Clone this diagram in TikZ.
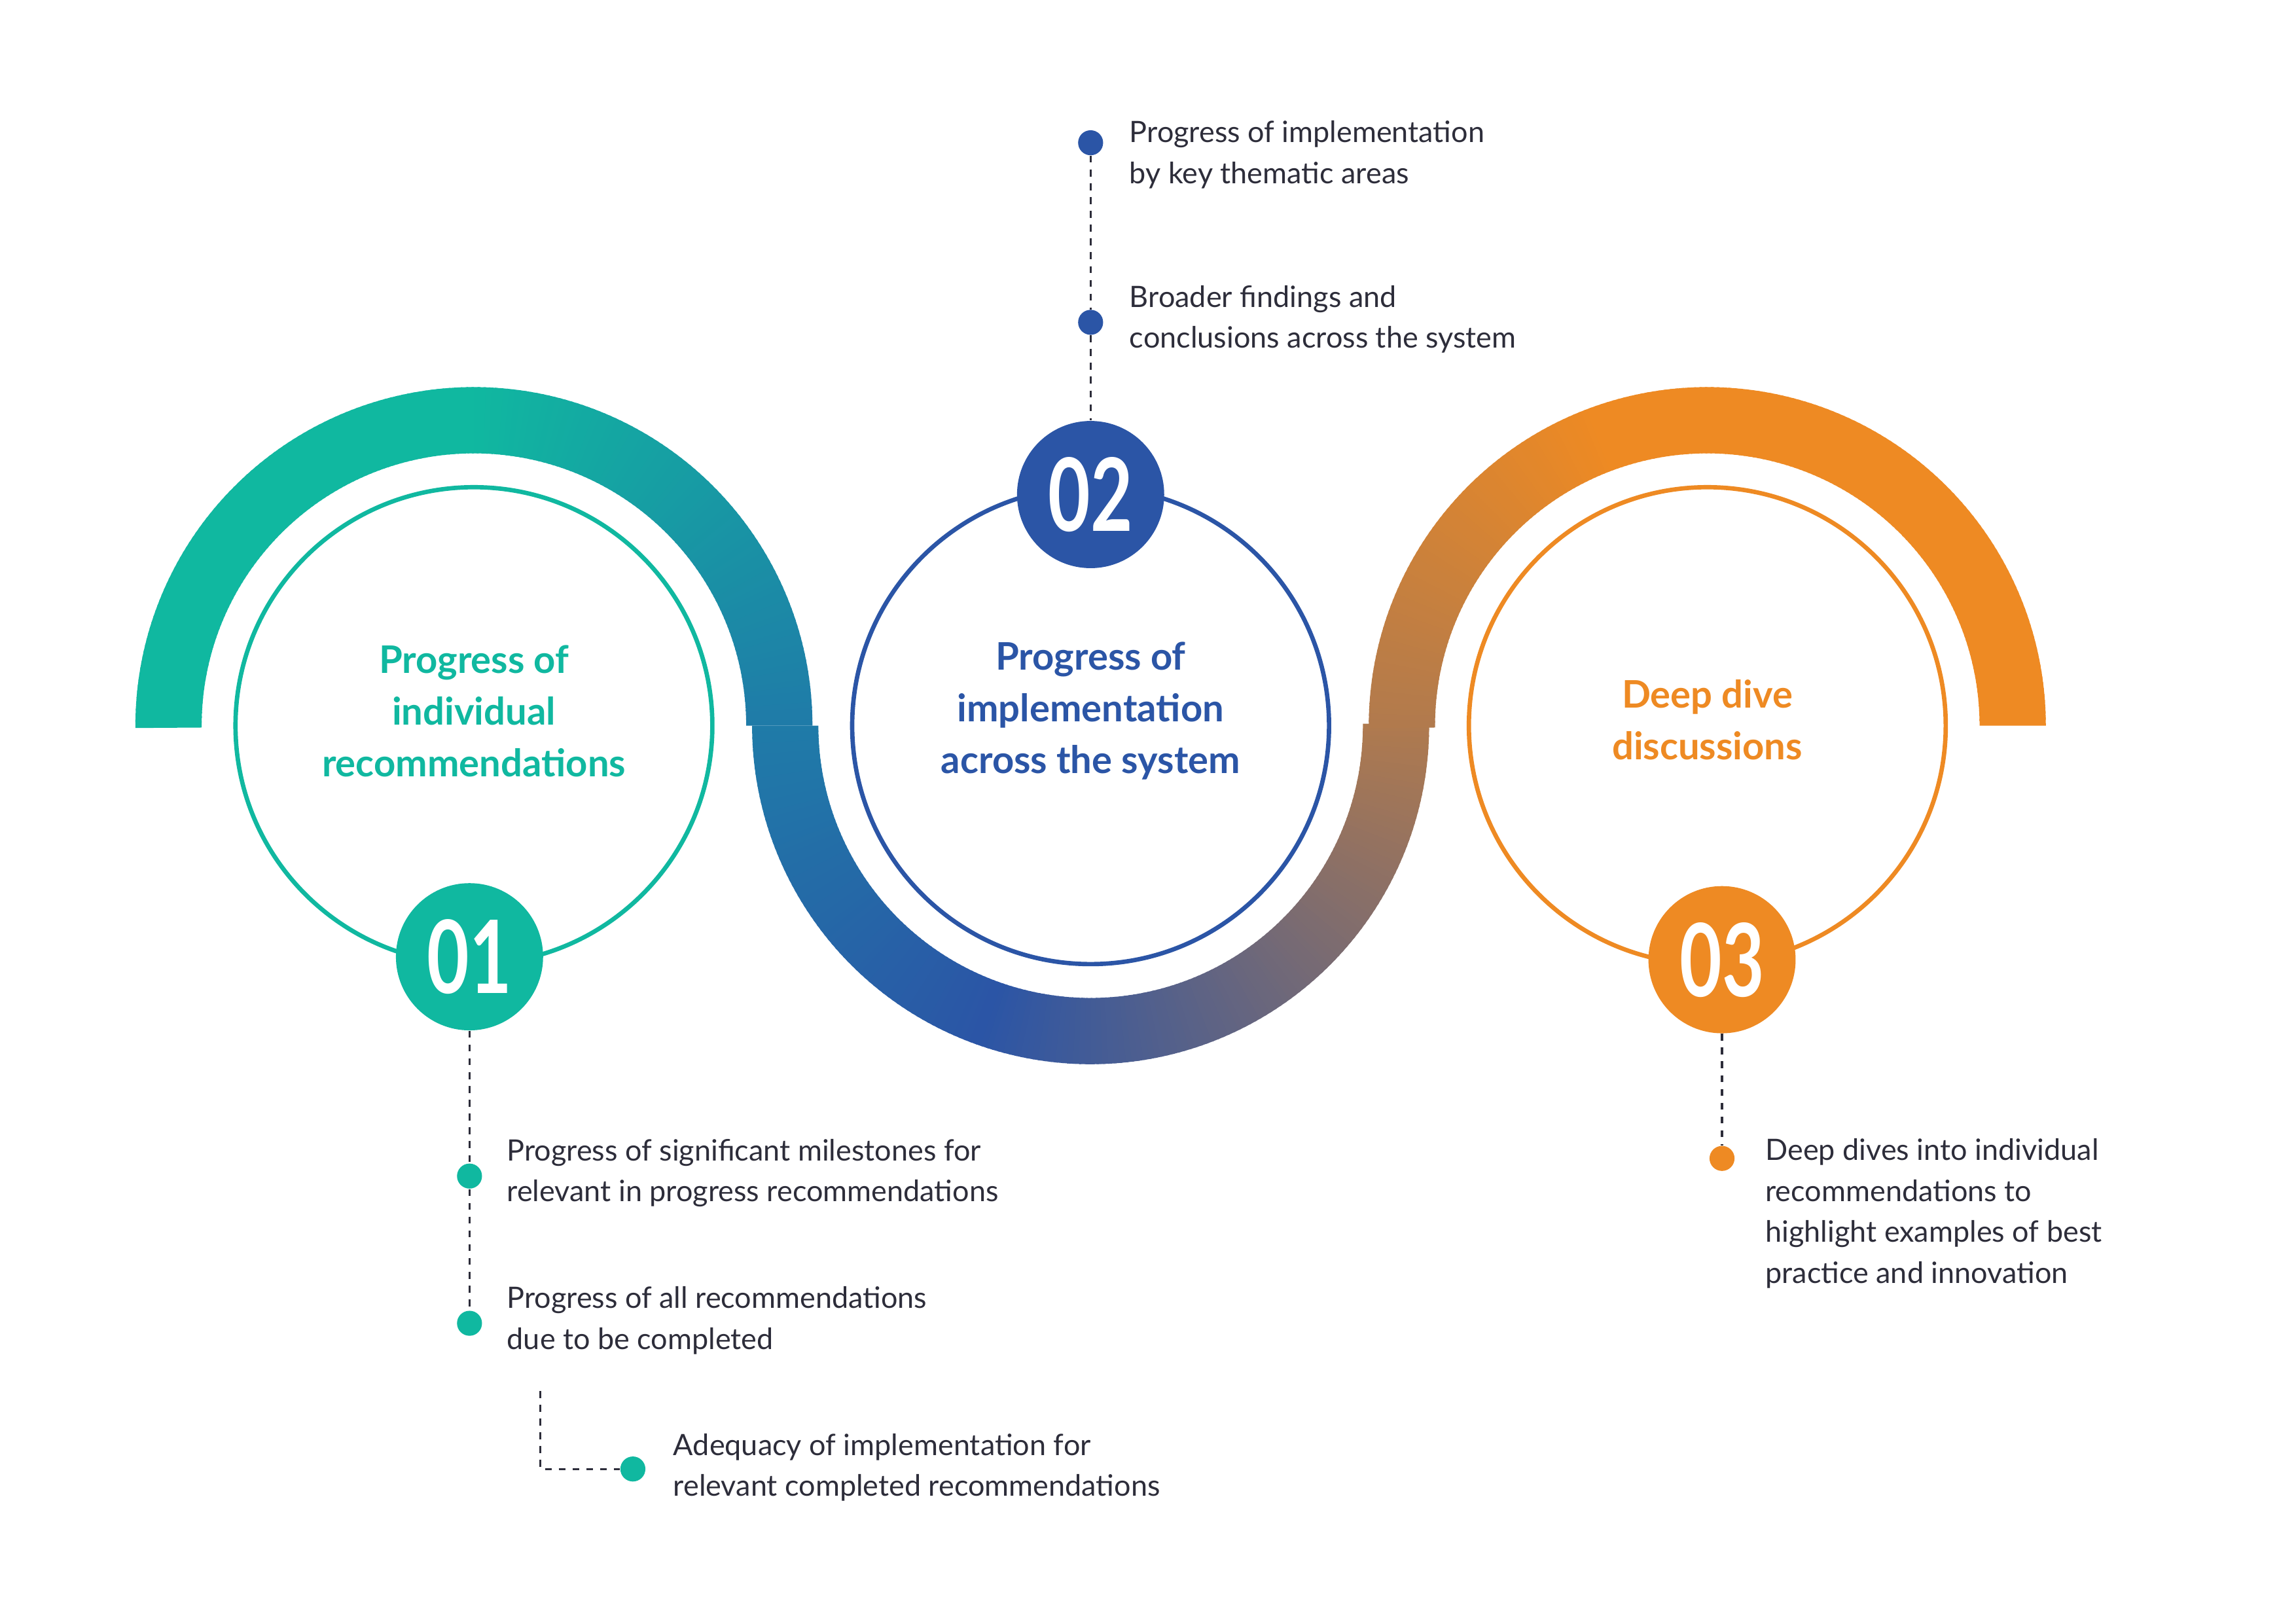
\documentclass[tikz,border=0pt]{standalone}
\usepackage{graphicx}
\usepackage{fontspec}
\setmainfont{Lato}
\usetikzlibrary{positioning}
\definecolor{tealc}{HTML}{10B8A0}
\definecolor{steelc}{HTML}{1F7BA8}
\definecolor{bluec}{HTML}{2B55A6}
\definecolor{brownc}{HTML}{B07A4E}
\definecolor{orangec}{HTML}{EE8A23}
\definecolor{textc}{HTML}{2D2D3A}
\begin{document}
\begin{tikzpicture}[x=0.02249cm,y=0.02249cm,
            ring/.style={draw,circle,line width=1.9pt,minimum size=324*0.02249cm,inner sep=0pt},
            badge/.style={circle,minimum size=100*0.02249cm,inner sep=0pt,text=white,font=\fontsize{44}{44}\selectfont\bfseries},
            title/.style={align=center,font=\fontsize{16.5}{22.5}\selectfont\bfseries},
            dot/.style={circle,minimum size=17*0.02249cm,inner sep=0pt},
            info/.style={anchor=west,align=left,text=textc,font=\fontsize{12.8}{17.8}\selectfont},
            link/.style={draw=textc,dashed,line width=0.9pt}
          ]
          \useasboundingbox (0,0) rectangle (1560,1103);

          %wave
          \foreach \a in {0,...,179}{
            \pgfmathsetmacro\p{min(100,\a/90*100)}
            \fill[tealc!\p!steelc,shift={(322,610)}] (\a:230) arc[start angle=\a,end angle=\a+1.4,radius=230] -- (\a+1.4:185) arc[start angle=\a+1.4,end angle=\a,radius=185] -- cycle;
          }
          \foreach \a in {180,...,359}{
            \pgfmathsetmacro\p{\a<250 ? (\a-180)/70*100 : 100-(\a-250)/110*100}
            \ifdim\a pt<250pt
              \colorlet{segc}{bluec!\p!steelc}
            \else
              \colorlet{segc}{bluec!\p!brownc}
            \fi
            \fill[segc,shift={(741,610)}] (\a:230) arc[start angle=\a,end angle=\a+1.4,radius=230] -- (\a+1.4:185) arc[start angle=\a+1.4,end angle=\a,radius=185] -- cycle;
          }
          \foreach \a in {0,...,179}{
            \pgfmathsetmacro\p{max(0,(\a-110)/70*100)}
            \fill[brownc!\p!orangec,shift={(1160,610)}] (\a:230) arc[start angle=\a,end angle=\a+1.4,radius=230] -- (\a+1.4:185) arc[start angle=\a+1.4,end angle=\a,radius=185] -- cycle;
          }

          %rings
          \node[ring,draw=tealc] (r1) at (322,610) {};
          \node[ring,draw=bluec] (r2) at (741,610) {};
          \node[ring,draw=orangec] (r3) at (1160,610) {};

          \node[title,text=tealc] (t1) at (322,620) {Progress of\\individual\\recommendations};
          \node[title,text=bluec] (t2) at (741,620) {Progress of\\implementation\\across the system};
          \node[title,text=orangec] (t3) at (1160,614) {Deep dive\\discussions};

          %badges
          \node[badge,fill=tealc] (b1) at (319,453) {\scalebox{0.72}[1]{01}};
          \node[badge,fill=bluec] (b2) at (741,767) {\scalebox{0.72}[1]{02}};
          \node[badge,fill=orangec] (b3) at (1170,451) {\scalebox{0.72}[1]{03}};

          %points
          \node[dot,fill=bluec] (d21) at (741,1006) {};
          \node[dot,fill=bluec] (d22) at (741,884) {};
          \node[dot,fill=tealc] (d11) at (319,304) {};
          \node[dot,fill=tealc] (d12) at (319,204) {};
          \node[dot,fill=tealc] (d13) at (430,105) {};
          \node[dot,fill=orangec] (d31) at (1170,316) {};
          \coordinate (e1) at (367,158);
          \coordinate (e2) at (367,105);

          \path[link] (d21) -- (d22) -- (b2);
          \path[link] (b1) -- (d11) -- (d12);
          \path[link] (e1) -- (e2) -- (d13);
          \path[link] (b3) -- (d31);

          %labels
          \node[info] (l21) at (762,998) {Progress of implementation\\by key thematic areas};
          \node[info] (l22) at (762,886) {Broader findings and\\conclusions across the system};
          \node[info] (l11) at (339,306) {Progress of significant milestones for\\relevant in progress recommendations};
          \node[info] (l12) at (339,206) {Progress of all recommendations\\due to be completed};
          \node[info] (l13) at (452,106) {Adequacy of implementation for\\relevant completed recommendations};
          \node[info,anchor=north west] (l31) at (1194,335) {Deep dives into individual\\recommendations to\\highlight examples of best\\practice and innovation};
\end{tikzpicture}
\end{document}
